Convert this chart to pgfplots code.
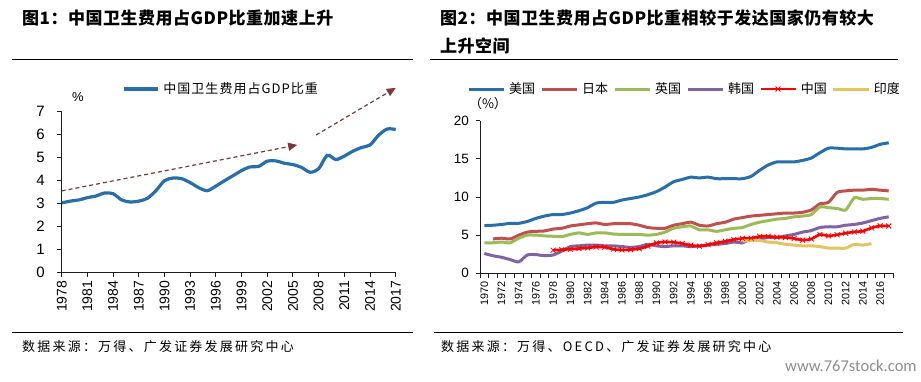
\documentclass[border=0pt]{standalone}
\usepackage{pgfplots}
\pgfplotsset{compat=1.18}
\usepackage{pgfplotstable}
\usepackage{fontspec}
\usetikzlibrary{arrows.meta}
\setmainfont{Liberation Sans}
\newfontfamily\cjk{Noto Sans CJK SC}
\newfontfamily\cjkt{Noto Sans CJK SC}[LetterSpace=3]
\newfontfamily\cjkls{Noto Sans CJK SC}[LetterSpace=17]
\newfontfamily\cjklg{Noto Sans CJK SC}[LetterSpace=8]
\newfontfamily\carlito{Carlito}
\newcommand\fs[1]{\fontsize{#1bp}{#1bp}\selectfont}

\definecolor{cUS}{RGB}{40,110,170}
\definecolor{cJP}{RGB}{192,80,77}
\definecolor{cUK}{RGB}{155,187,89}
\definecolor{cKR}{RGB}{128,100,162}
\definecolor{cCN}{RGB}{255,0,0}
\definecolor{cIN}{RGB}{226,196,96}
\definecolor{arr}{RGB}{125,55,55}
\definecolor{axc}{RGB}{30,30,30}

\pgfplotstableread{
year v
1978 3.02
1979 3.10
1980 3.15
1981 3.25
1982 3.32
1983 3.45
1984 3.42
1985 3.15
1986 3.06
1987 3.10
1988 3.22
1989 3.55
1990 3.98
1991 4.10
1992 4.07
1993 3.90
1994 3.68
1995 3.55
1996 3.75
1997 3.98
1998 4.20
1999 4.42
2000 4.58
2001 4.60
2002 4.83
2003 4.84
2004 4.74
2005 4.68
2006 4.56
2007 4.35
2008 4.50
2009 5.08
2010 4.90
2011 5.05
2012 5.26
2013 5.42
2014 5.53
2015 5.95
2016 6.22
2017 6.20
}\chinadata

\pgfplotstableread{
year US JP UK KR CN IN
1970 6.25 nan 4.00 2.60 nan nan
1971 6.30 4.50 4.00 2.30 nan nan
1972 6.40 4.60 4.10 2.10 nan nan
1973 6.55 4.50 4.00 1.80 nan nan
1974 6.55 5.00 4.60 1.50 nan nan
1975 6.80 5.40 5.00 2.40 nan nan
1976 7.20 5.50 5.00 2.45 nan nan
1977 7.50 5.55 4.90 2.30 nan nan
1978 7.70 5.80 4.85 2.40 3.02 nan
1979 7.70 5.90 4.80 2.90 3.10 nan
1980 7.90 6.20 5.10 3.50 3.15 nan
1981 8.20 6.35 5.30 3.60 3.25 nan
1982 8.60 6.50 5.10 3.70 3.32 nan
1983 9.20 6.60 5.30 3.70 3.45 nan
1984 9.30 6.40 5.30 3.60 3.42 nan
1985 9.30 6.50 5.15 3.60 3.15 nan
1986 9.60 6.50 5.10 3.50 3.06 nan
1987 9.80 6.50 5.10 3.40 3.10 nan
1988 10.0 6.30 5.10 3.50 3.22 nan
1989 10.3 6.00 5.00 3.80 3.55 nan
1990 10.7 5.90 5.10 3.60 3.98 nan
1991 11.3 5.90 5.40 3.50 4.10 nan
1992 12.0 6.30 5.90 3.60 4.07 nan
1993 12.3 6.50 6.10 3.60 3.90 nan
1994 12.6 6.70 6.20 3.50 3.68 nan
1995 12.5 6.30 5.70 3.60 3.55 nan
1996 12.6 6.20 5.70 3.70 3.75 nan
1997 12.4 6.50 5.50 3.80 3.98 nan
1998 12.4 6.70 5.70 3.90 4.20 nan
1999 12.4 7.10 5.90 4.10 4.42 nan
2000 12.4 7.30 6.00 4.00 4.58 4.20
2001 12.7 7.50 6.40 4.50 4.60 4.30
2002 13.5 7.60 6.70 4.50 4.83 4.30
2003 14.2 7.70 6.90 4.70 4.84 4.10
2004 14.6 7.80 7.10 4.70 4.74 4.00
2005 14.6 7.90 7.20 4.90 4.68 3.80
2006 14.6 7.90 7.40 5.10 4.56 3.70
2007 14.8 8.00 7.50 5.40 4.35 3.60
2008 15.1 8.30 7.70 5.60 4.50 3.60
2009 15.8 9.10 8.70 6.00 5.08 3.50
2010 16.4 9.30 8.60 6.10 4.90 3.30
2011 16.4 10.6 8.50 6.10 5.05 3.30
2012 16.3 10.8 8.30 6.30 5.26 3.30
2013 16.3 10.9 9.90 6.40 5.42 3.80
2014 16.3 10.9 9.70 6.60 5.53 3.70
2015 16.5 11.0 9.80 6.90 5.95 3.90
2016 16.9 10.9 9.80 7.20 6.22 nan
2017 17.1 10.8 9.70 7.40 6.20 nan
}\worlddata

\begin{document}
\begin{tikzpicture}[x=1bp,y=1bp]
\useasboundingbox (0,0) rectangle (921,381);

% titles and rules
\node[anchor=west,inner sep=0] at (22,363) {\cjkt\bfseries\fs{17}图1：中国卫生费用占GDP比重加速上升};
\node[anchor=west,inner sep=0] at (440,363) {\cjkt\bfseries\fs{17}图2：中国卫生费用占GDP比重相较于发达国家仍有较大};
\node[anchor=west,inner sep=0] at (440,335) {\cjkt\bfseries\fs{17}上升空间};
\draw[line width=1bp] (12,321.7) -- (413,321.7);
\draw[line width=1bp] (430,321.7) -- (898,321.7);
\draw[line width=1bp] (12,49) -- (413,49);
\draw[line width=1bp] (434,49) -- (903,49);
\node[anchor=west,inner sep=0] at (22,34) {\cjkls\fs{13}数据来源：万得、广发证券发展研究中心};
\node[anchor=west,inner sep=0] at (441,34) {\cjkls\fs{13}数据来源：万得、OECD、广发证券发展研究中心};
\node[anchor=west,inner sep=0,text=black!45] at (785,15) {\carlito\fs{16.5}www.767stock.com};
\node[inner sep=0] at (78,284) {\fs{13}\%};
\node[inner sep=0] at (488,277) {\cjk\fs{13}（\%）};

% left chart
\begin{axis}[
  at={(61.7bp,108.3bp)}, anchor=south west, scale only axis,
  width=334bp, height=161.7bp,
  xmin=1978, xmax=2017, ymin=0, ymax=7,
  axis x line*=bottom, axis y line*=left,
  axis line style={line width=0.9bp, axc},
  xtick={1978,1981,...,2017}, ytick={0,1,...,7},
  tick align=outside, major tick length=4.5bp,
  tick style={line width=0.9bp, axc},
  /pgf/number format/assume math mode=true,
  x tick label style={rotate=90, anchor=east, font=\fs{14}, /pgf/number format/1000 sep={}},
  y tick label style={font=\fs{15}, xshift=-9bp},
  clip=false,
  legend columns=-1,
  legend style={at={(0.1805,1.136)}, anchor=west, draw=none, fill=none, inner sep=0pt,
    nodes={inner sep=0pt, font=\cjklg\fs{13}},
    /tikz/every odd column/.append style={column sep=4bp}},
  legend image code/.code={\draw[#1] (0bp,0bp) -- (34bp,0bp);},
]
\addplot[color=cUS, line width=3.2bp, smooth, tension=0.5] table[x=year,y=v] {\chinadata};
\addlegendentry{中国卫生费用占GDP比重}
\addplot[color=arr, line width=1.2bp, dashed, dash pattern=on 4bp off 3bp, -{Triangle[length=9bp,width=8bp]}, forget plot] coordinates {(1978,3.54) (2005.5,5.53)};
\addplot[color=arr, line width=1.2bp, dashed, dash pattern=on 4bp off 3bp, -{Triangle[length=9bp,width=8bp]}, forget plot] coordinates {(2007.7,5.96) (2017,8.0)};
\end{axis}

% right chart
\begin{axis}[
  at={(480bp,107.7bp)}, anchor=south west, scale only axis,
  width=413bp, height=152.6bp,
  xmin=1969.5, xmax=2017.5, ymin=0, ymax=20,
  axis x line*=bottom, axis y line*=left,
  axis line style={line width=0.9bp, axc},
  xtick={1970,1972,...,2016}, ytick={0,5,...,20},
  minor xtick={1969.5,1970.5,...,2017.5},
  tick align=outside, major tick length=4.5bp, minor tick length=4.5bp,
  xtick style={draw=none}, minor x tick style={line width=0.9bp, axc, draw},
  ytick style={line width=0.9bp, axc},
  /pgf/number format/assume math mode=true,
  x tick label style={rotate=90, anchor=east, font=\fs{10.8}, /pgf/number format/1000 sep={}},
  y tick label style={font=\fs{13.5}, xshift=-3bp},
  unbounded coords=jump,
  legend columns=-1,
  legend style={at={(-0.0315,1.2077)}, anchor=west, draw=none, fill=none, inner sep=0pt,
    nodes={inner sep=0pt, font=\cjk\fs{13}},
    /tikz/every odd column/.append style={column sep=4bp},
    /tikz/every even column/.append style={column sep=5bp}},
  legend image code/.code={\draw[mark repeat=2,mark phase=2,#1] plot coordinates {(0bp,0bp) (17.5bp,0bp) (35bp,0bp)};},
]
\addplot[color=cUS, line width=3bp, smooth, tension=0.4] table[x=year,y=US] {\worlddata};
\addlegendentry{美国}
\addplot[color=cJP, line width=3bp, smooth, tension=0.4] table[x=year,y=JP] {\worlddata};
\addlegendentry{日本}
\addplot[color=cUK, line width=3bp, smooth, tension=0.4] table[x=year,y=UK] {\worlddata};
\addlegendentry{英国}
\addplot[color=cKR, line width=3bp, smooth, tension=0.4] table[x=year,y=KR] {\worlddata};
\addlegendentry{韩国}
\addplot[color=cCN, line width=2.6bp, smooth, tension=0.4, mark=x, mark size=3.5bp, mark options={line width=0.8bp, solid}] table[x=year,y=CN] {\worlddata};
\addlegendentry{中国}
\addplot[color=cIN, line width=3bp, smooth, tension=0.4] table[x=year,y=IN] {\worlddata};
\addlegendentry{印度}
\end{axis}
\end{tikzpicture}
\end{document}
